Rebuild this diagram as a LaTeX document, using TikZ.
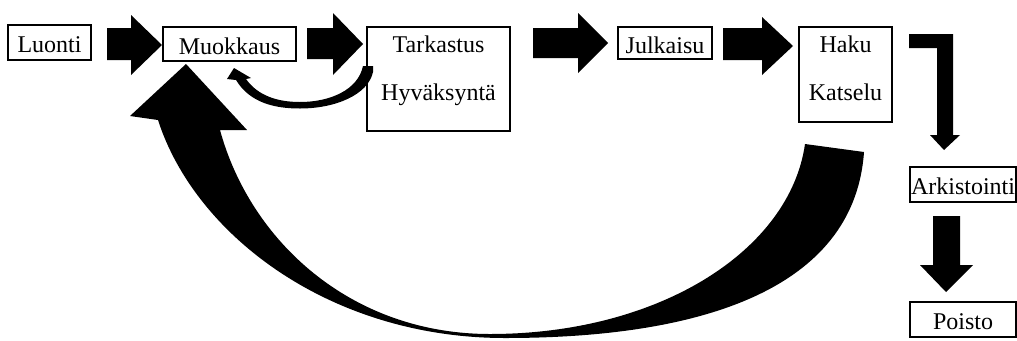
\documentclass[tikz,border=0pt]{standalone}
\usepackage{fontspec}
\setmainfont{Liberation Serif}
\begin{document}
\begin{tikzpicture}[x=0.75pt,y=-0.75pt,
  font=\fontsize{18}{20}\selectfont,
  box/.style={draw, line width=1.1pt, inner sep=0pt, text height=15pt, text depth=0pt},
  lbl/.style={inner sep=0pt, anchor=base},
  blk/.style={fill=black, draw=none}]
\useasboundingbox (0,0) rectangle (1017,340);

% boxes
\node[box, minimum width=62.25pt, minimum height=26.25pt] (luonti) at (49.5,42.5) {Luonti};
\node[box, minimum width=99.75pt, minimum height=25.5pt] (muok) at (229.5,44) {Muokkaus};
\node[box, minimum width=107.25pt, minimum height=78pt] (tark) at (438.5,79) {};
\node[lbl] (t1) at (438.5,52) {Tarkastus};
\node[lbl] (t2) at (438.5,100) {Hyväksyntä};
\node[box, minimum width=70.5pt, minimum height=24pt] (julk) at (665,43) {Julkaisu};
\node[box, minimum width=69.75pt, minimum height=71.25pt] (haku) at (845.5,74.5) {};
\node[lbl] (h1) at (845.5,52) {Haku};
\node[lbl] (h2) at (845.5,100) {Katselu};
\node[box, minimum width=79.5pt, minimum height=26.25pt] (ark) at (963,184.5) {Arkistointi};
\node[box, minimum width=79.5pt, minimum height=26.25pt] (poisto) at (963,319.5) {Poisto};

% straight block arrows
\fill[blk] (107,28) -- (131,28) -- (131,15) -- (162,45) -- (131,75) -- (131,60) -- (107,60) -- cycle;
\fill[blk] (307,28) -- (333,28) -- (333,13) -- (363,44) -- (333,75) -- (333,59) -- (307,59) -- cycle;
\fill[blk] (533,28) -- (578,28) -- (578,13) -- (608,43) -- (578,73) -- (578,58) -- (533,58) -- cycle;
\fill[blk] (723,28) -- (762,28) -- (762,17) -- (793,46) -- (762,75) -- (762,60) -- (723,60) -- cycle;
% elbow arrow
\fill[blk] (909,34) -- (953,34) -- (953,135) -- (960,135) -- (944,150) -- (930,135) -- (937,135) -- (937,48) -- (909,48) -- cycle;
% down arrow
\fill[blk] (933,216) -- (960,216) -- (960,265) -- (973,265) -- (946,292) -- (920,265) -- (933,265) -- cycle;

% small curved arrow (Tarkastus -> Muokkaus)
\fill[blk] (251,78) -- (234,68) -- (227,79) -- (236,80)
  .. controls (250,103) and (275,108.5) .. (300,108.5)
  .. controls (335,108.5) and (368,95) .. (373,72)
  -- (373,66) -- (363,66)
  .. controls (358,90) and (330,102) .. (300,102)
  .. controls (278,102) and (258,96) .. (246,79) -- cycle;

% big curved arrow (Haku/Katselu -> Muokkaus)
\fill[blk] (805,144) -- (864,152)
  .. controls (855,280) and (720,338) .. (505,338)
  .. controls (330,338) and (195,235) .. (158,120)
  -- (130,116) -- (186,64) -- (247,130) -- (220,130)
  .. controls (250,240) and (350,334) .. (490,334)
  .. controls (660,334) and (790,250) .. (805,144) -- cycle;
\end{tikzpicture}
\end{document}
